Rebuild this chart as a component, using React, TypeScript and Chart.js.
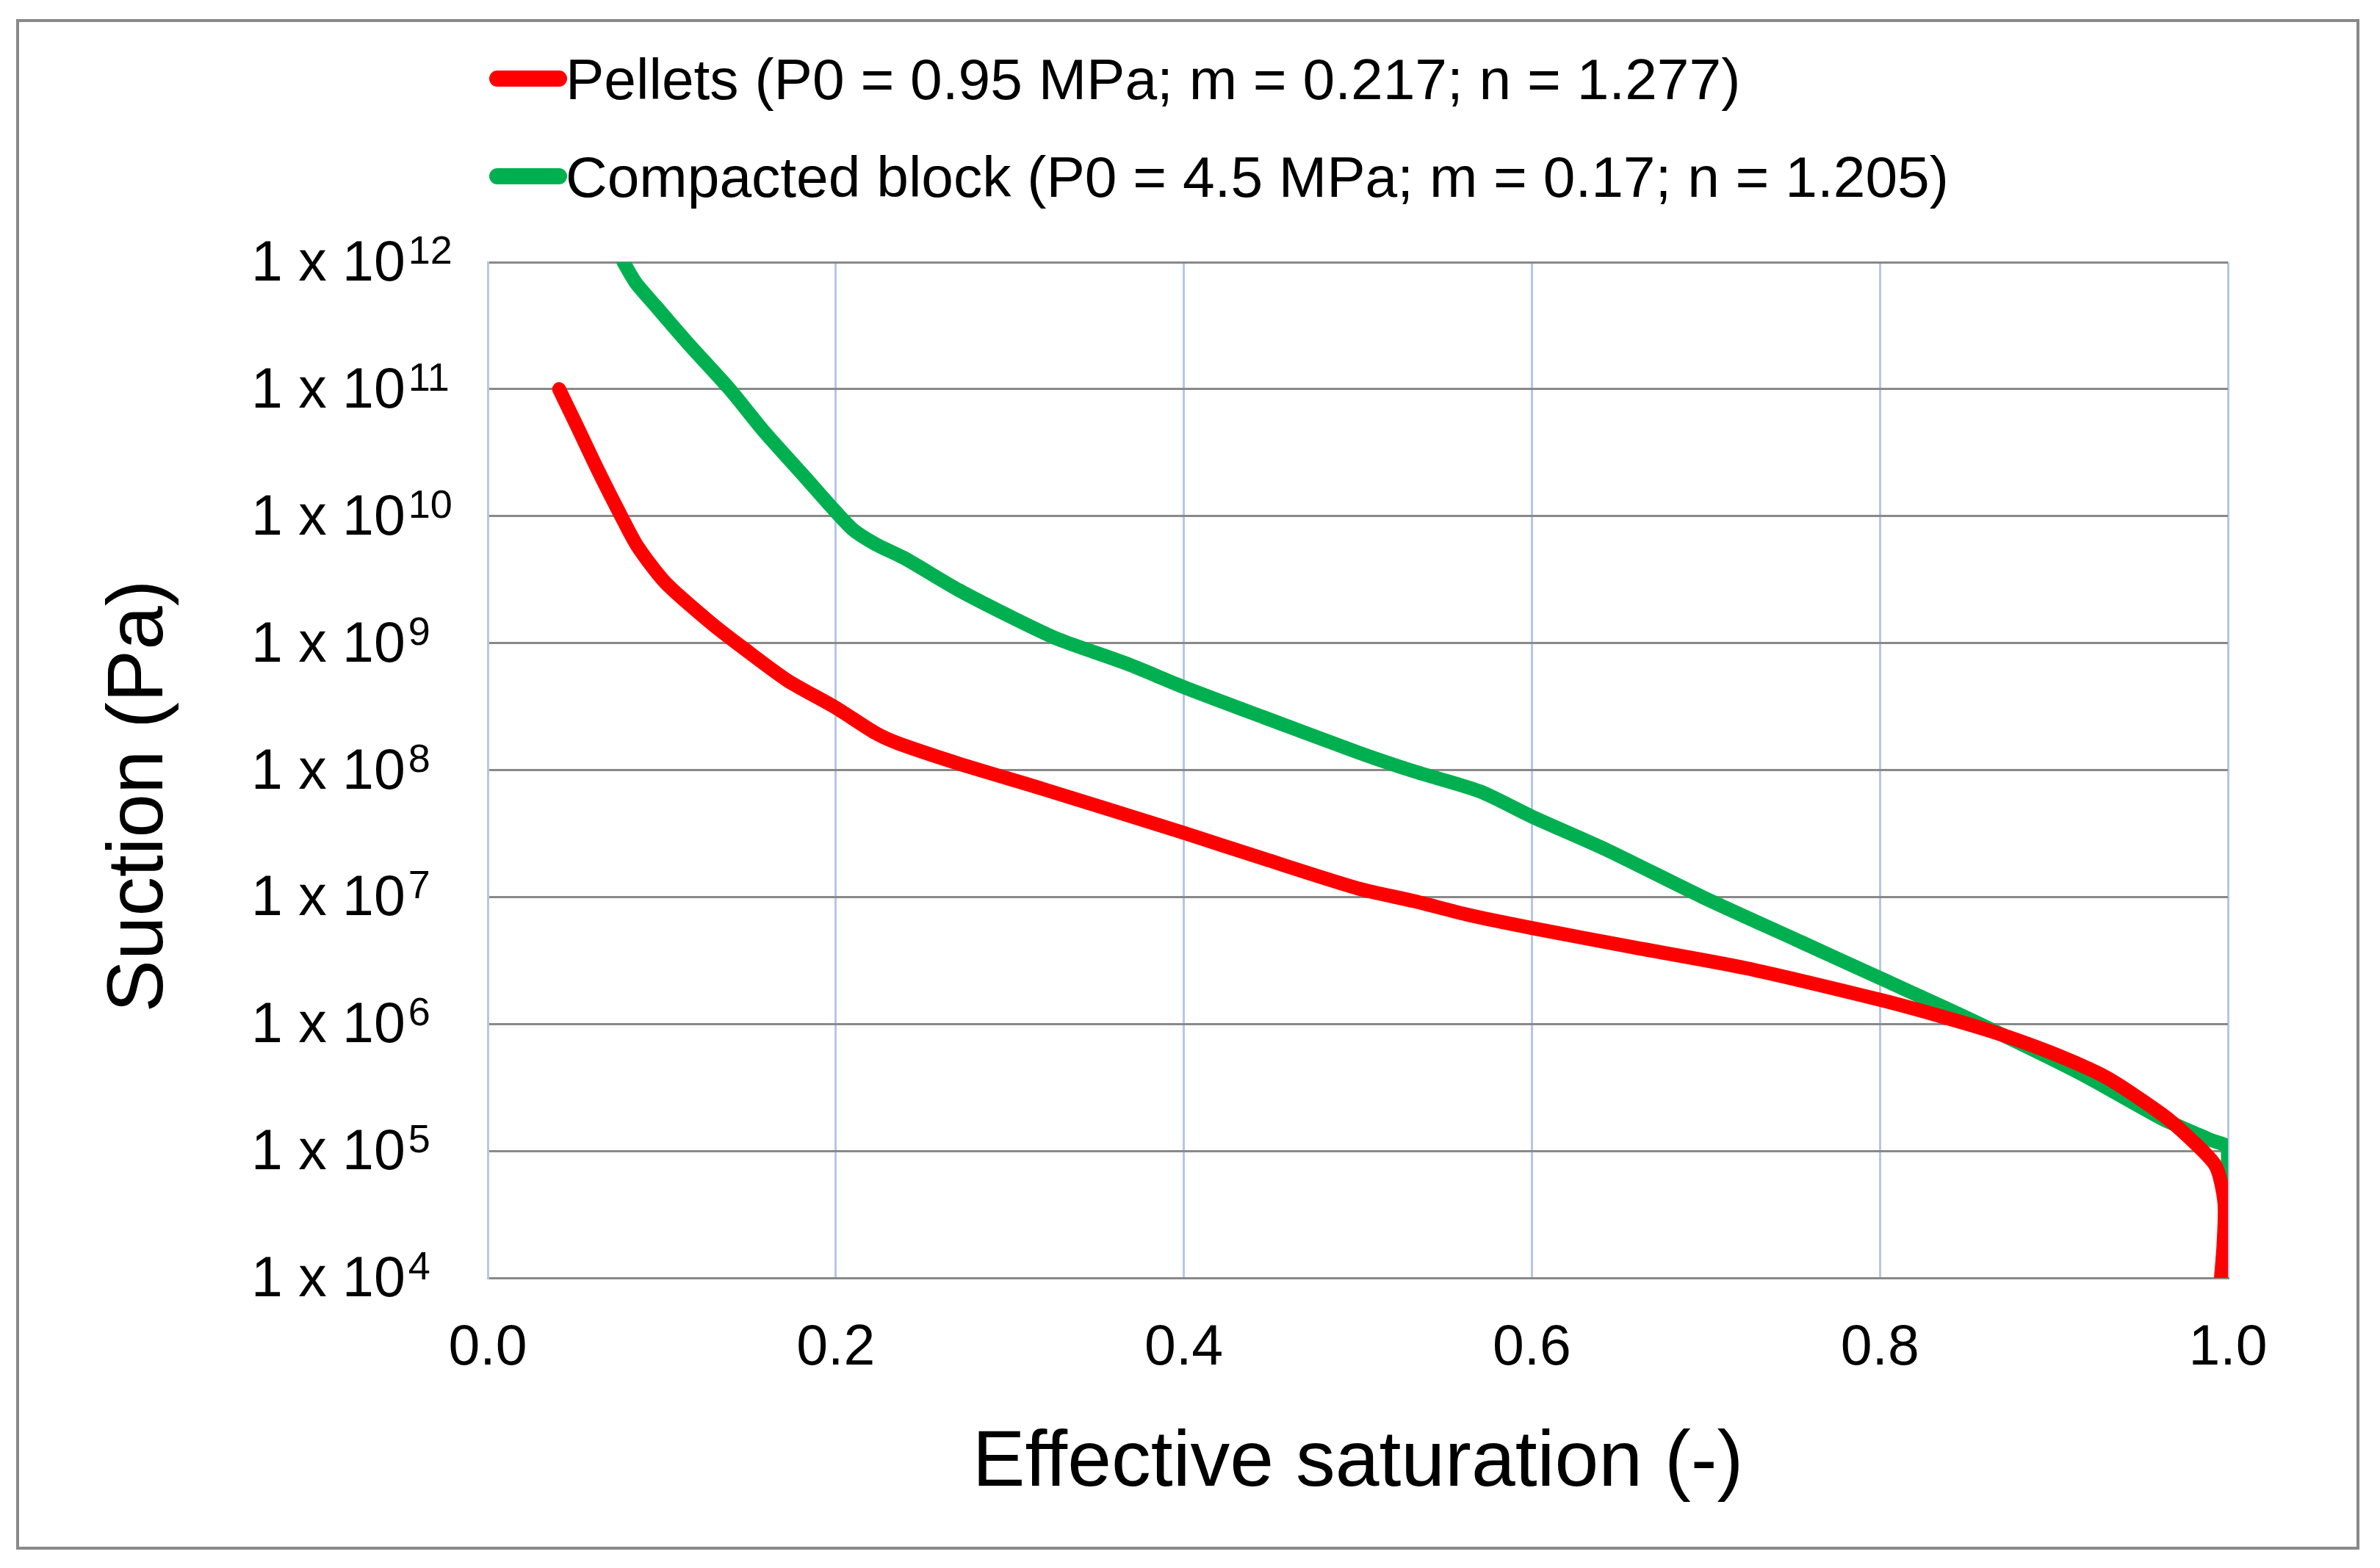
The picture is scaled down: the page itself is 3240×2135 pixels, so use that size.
import React, { useEffect, useRef } from "react";
import { Chart, registerables } from "chart.js";

Chart.register(...registerables);

// ---- data ----
const SERIES_NAMES = [
  "Pellets (P0 = 0.95 MPa; m = 0.217; n = 1.277)",
  "Compacted block (P0 = 4.5 MPa; m = 0.17; n = 1.205)",
];
const SERIES_COLORS = ["#ff0000", "#00b050"];

const PELLETS_X = [
  0.041, 0.051, 0.064, 0.077, 0.086, 0.102, 0.128, 0.147, 0.172, 0.2, 0.223, 0.236,
  0.271, 0.319, 0.4, 0.446, 0.5, 0.532, 0.564, 0.6, 0.659, 0.723, 0.8, 0.835, 0.867,
  0.899, 0.93, 0.962, 0.978, 0.993, 0.998, 0.9975, 0.996,
];
const PELLETS_Y = [
  1.0e11, 5.2e10, 2.2e10, 9.8e9, 5.8e9, 3.0e9, 1.45e9, 9.1e8, 5.1e8, 3.1e8, 1.95e8, 1.62e8,
  1.12e8, 7.1e7, 3.2e7, 2.0e7, 1.17e7, 9.3e6, 7.2e6, 5.7e6, 4.0e6, 2.75e6, 1.55e6, 1.15e6, 8.5e5,
  5.9e5, 3.8e5, 1.95e5, 1.26e5, 7.6e4, 3.9e4, 1.86e4, 1.0e4,
];

const BLOCK_X = [
  0.078, 0.085, 0.096, 0.115, 0.139, 0.159, 0.182, 0.199, 0.21, 0.223, 0.239, 0.271,
  0.303, 0.328, 0.367, 0.4, 0.446, 0.5, 0.532, 0.57, 0.6, 0.643, 0.698, 0.755, 0.8,
  0.851, 0.915, 0.962, 0.98, 0.99, 1.0, 1.0,
];
const BLOCK_Y = [
  1.0e12, 6.9e11, 4.6e11, 2.3e11, 1.0e11, 4.6e10, 2.05e10, 1.12e10, 7.8e9, 6.0e9, 4.7e9, 2.6e9,
  1.55e9, 1.07e9, 6.9e8, 4.5e8, 2.6e8, 1.38e8, 9.8e7, 6.8e7, 4.3e7, 2.35e7, 1.0e7, 4.4e6, 2.3e6,
  1.1e6, 4.1e5, 1.8e5, 1.4e5, 1.22e5, 1.05e5, 1.0e4,
];

const X_TICKS = [0, 0.2, 0.4, 0.6, 0.8, 1.0];
const X_TICK_LABELS = ["0.0", "0.2", "0.4", "0.6", "0.8", "1.0"];
const Y_TICKS = [1e4, 1e5, 1e6, 1e7, 1e8, 1e9, 1e10, 1e11, 1e12];
const Y_EXPONENTS = ["4", "5", "6", "7", "8", "9", "10", "11", "12"];

const X_TITLE = "Effective saturation (-)";
const Y_TITLE = "Suction (Pa)";

const W = 3240;
const H = 2135;
const FONT = '"Liberation Sans", Arial, sans-serif';

const decorPlugin = {
  id: "decor",
  beforeDraw(chart: any) {
    const ctx = chart.ctx;
    ctx.save();
    ctx.fillStyle = "#ffffff";
    ctx.fillRect(0, 0, chart.width, chart.height);
    ctx.restore();
  },
  afterDraw(chart: any) {
    const { ctx, chartArea, scales } = chart;
    const xs = scales.x;
    const ys = scales.y;
    ctx.save();

    // outer frame
    ctx.strokeStyle = "#898989";
    ctx.lineWidth = 4;
    ctx.strokeRect(24, 28, 3186, 2080);

    ctx.fillStyle = "#000000";
    ctx.textBaseline = "alphabetic";

    // y tick labels with superscript exponents
    Y_TICKS.forEach((v, i) => {
      const py = ys.getPixelForValue(v);
      ctx.font = `77px ${FONT}`;
      ctx.textAlign = "left";
      const base = "1 x 10";
      ctx.fillText(base, 342, py + 25);
      const w = ctx.measureText(base).width;
      ctx.font = `54px ${FONT}`;
      ctx.fillText(Y_EXPONENTS[i], 342 + w + 4, py + 2);
    });

    // x tick labels
    ctx.font = `77px ${FONT}`;
    ctx.textAlign = "center";
    X_TICKS.forEach((v, i) => {
      const px = xs.getPixelForValue(v);
      ctx.fillText(X_TICK_LABELS[i], px, 1858);
    });

    // x title
    ctx.font = `107.5px ${FONT}`;
    ctx.textAlign = "center";
    ctx.fillText(X_TITLE, (chartArea.left + chartArea.right) / 2, 2023);

    // y title
    ctx.save();
    ctx.translate(221, 1084);
    ctx.rotate(-Math.PI / 2);
    ctx.textAlign = "center";
    ctx.font = `107px ${FONT}`;
    ctx.fillText(Y_TITLE, 0, 0);
    ctx.restore();

    // legend
    const rows = [107, 240];
    SERIES_NAMES.forEach((name, i) => {
      const cy = rows[i];
      ctx.strokeStyle = SERIES_COLORS[i];
      ctx.lineWidth = 22;
      ctx.lineCap = "round";
      ctx.beginPath();
      ctx.moveTo(677, cy);
      ctx.lineTo(761, cy);
      ctx.stroke();
      ctx.font = `78.5px ${FONT}`;
      ctx.textAlign = "left";
      ctx.fillStyle = "#000000";
      ctx.fillText(name, 770, cy + 28);
    });

    ctx.restore();
  },
};

export default function App() {
  const canvasRef = useRef<HTMLCanvasElement | null>(null);

  useEffect(() => {
    const canvas = canvasRef.current;
    if (!canvas) return;
    const pellets = PELLETS_X.map((x, i) => ({ x, y: PELLETS_Y[i] }));
    const block = BLOCK_X.map((x, i) => ({ x, y: BLOCK_Y[i] }));

    const chart = new Chart(canvas, {
      type: "scatter",
      data: {
        datasets: [
          {
            label: SERIES_NAMES[0],
            data: pellets,
            showLine: true,
            borderColor: SERIES_COLORS[0],
            backgroundColor: SERIES_COLORS[0],
            borderWidth: 19,
            pointRadius: 0,
            tension: 0.25,
            borderCapStyle: "round",
            borderJoinStyle: "round",
            clip: 0,
          },
          {
            label: SERIES_NAMES[1],
            data: block,
            showLine: true,
            borderColor: SERIES_COLORS[1],
            backgroundColor: SERIES_COLORS[1],
            borderWidth: 19,
            pointRadius: 0,
            tension: 0.25,
            borderCapStyle: "round",
            borderJoinStyle: "round",
            clip: 0,
          },
        ],
      },
      options: {
        animation: false,
        responsive: false,
        devicePixelRatio: 1,
        layout: { padding: { left: 0, right: W - 3033, top: 357, bottom: 0 } },
        plugins: {
          legend: { display: false },
          tooltip: { enabled: false },
          title: { display: false },
        },
        scales: {
          x: {
            type: "linear",
            min: 0,
            max: 1,
            ticks: { display: false },
            grid: { color: "#b4c7e7", lineWidth: 3, drawTicks: false },
            border: { display: true, color: "#898989", width: 3 },
            afterBuildTicks: (scale: any) => {
              scale.ticks = X_TICKS.map((v) => ({ value: v }));
            },
            afterFit: (scale: any) => {
              scale.height = H - 1740;
            },
          },
          y: {
            type: "logarithmic",
            min: 1e4,
            max: 1e12,
            ticks: { display: false },
            grid: { color: "#898989", lineWidth: 3, drawTicks: false },
            border: { display: true, color: "#b4c7e7", width: 3 },
            afterBuildTicks: (scale: any) => {
              scale.ticks = Y_TICKS.map((v) => ({ value: v }));
            },
            afterFit: (scale: any) => {
              scale.width = 664;
            },
          },
        },
      },
      plugins: [decorPlugin],
    });

    return () => {
      chart.destroy();
    };
  }, []);

  return (
    <div style={{ position: "fixed", left: 0, top: 0, width: W, height: H, background: "#fff" }}>
      <canvas ref={canvasRef} width={W} height={H} style={{ width: W, height: H, display: "block" }} />
    </div>
  );
}
